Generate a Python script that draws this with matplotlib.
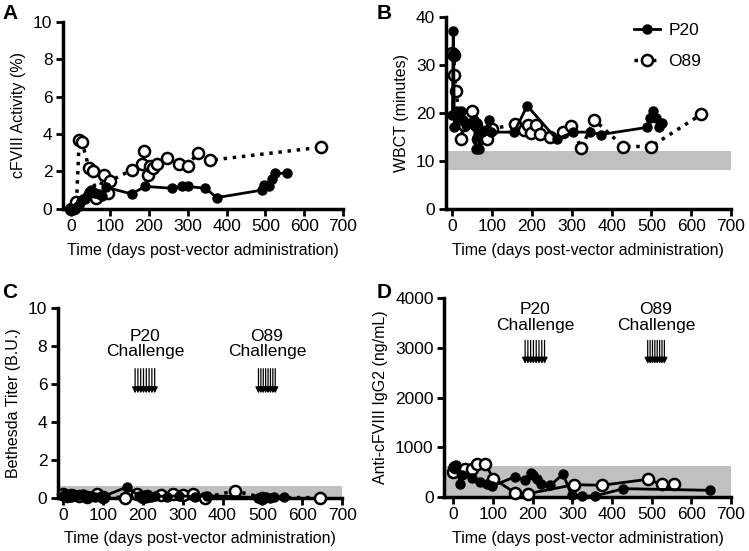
import numpy as np
import matplotlib
matplotlib.use("Agg")
import matplotlib.pyplot as plt

plt.rcParams['font.family'] = ['Liberation Sans', 'DejaVu Sans']
plt.rcParams['font.size'] = 12.5

# ---- panel A: cFVIII activity (%)
a_p20_x = [0, 5, 10, 15, 20, 25, 30, 35, 40, 45, 50, 55, 60, 70, 80, 90, 155, 190, 260, 285, 300, 345, 375, 490, 497, 510, 518, 525, 555]
a_p20_y = [0, 0, 0.05, 0.1, 0.2, 0.4, 0.5, 0.55, 0.7, 0.9, 1.0, 0.9, 0.85, 0.8, 0.7, 1.15, 0.8, 1.2, 1.1, 1.2, 1.2, 1.1, 0.6, 1.0, 1.3, 1.2, 1.6, 1.9, 1.9]
a_o89_x = [0, 7, 13, 20, 27, 45, 55, 63, 85, 93, 100, 157, 183, 188, 197, 203, 210, 220, 245, 277, 300, 325, 358, 644]
a_o89_y = [0, 0.05, 0.35, 3.7, 3.6, 2.2, 2.0, 0.6, 1.8, 0.85, 1.5, 2.1, 2.4, 3.1, 1.8, 2.3, 2.2, 2.4, 2.7, 2.4, 2.3, 3.0, 2.6, 3.3]

# ---- panel B: WBCT (minutes)
b_p20_x = [0, 2, 3, 5, 7, 12, 17, 22, 27, 35, 45, 55, 58, 62, 68, 75, 85, 92, 97, 155, 188, 262, 302, 345, 373, 490, 497, 505, 512, 520, 527]
b_p20_y = [19.5, 37, 32, 17, 19.5, 20.5, 18.5, 20.5, 18.5, 17.5, 18, 18.5, 12.5, 18, 12.5, 16, 16.5, 18.5, 16, 16, 21.5, 14.5, 16, 16, 15.5, 17, 19, 20.5, 19, 17, 18]
b_o89_x = [0, 4, 5, 10, 15, 22, 28, 50, 58, 65, 87, 100, 157, 180, 189, 197, 211, 220, 245, 277, 299, 324, 356, 429, 499, 625]
b_o89_y = [32.5, 32, 28, 24.5, 19.5, 14.6, 17.4, 20.5, 17.5, 14.6, 14.5, 16.7, 17.6, 16.4, 17.4, 15.8, 17.5, 15.7, 15, 16, 17.2, 12.6, 18.6, 13, 13, 19.7]

# ---- panel C: Bethesda titer (B.U.)
c_p20_x = [0, 5, 10, 15, 20, 25, 30, 40, 50, 60, 70, 80, 95, 100, 160, 190, 200, 210, 220, 230, 260, 290, 330, 360, 490, 500, 505, 510, 520, 530, 555]
c_p20_y = [0.1, 0.2, 0.1, 0.15, 0.05, 0.2, 0.1, 0.15, 0.2, 0.05, 0.1, 0.05, 0.1, 0.05, 0.55, 0.1, 0.05, 0.15, 0.05, 0.1, 0.05, 0.1, 0.05, 0.1, 0.0, 0.05, 0.0, 0.05, 0.0, 0.05, 0.05]
c_o89_x = [0, 10, 20, 40, 60, 85, 100, 155, 185, 200, 210, 245, 275, 300, 325, 355, 431, 500, 645]
c_o89_y = [0.2, 0.1, 0.15, 0.1, 0.05, 0.2, 0.05, 0.0, 0.2, 0.05, 0.1, 0.15, 0.2, 0.15, 0.2, 0.0, 0.35, 0.0, 0.0]

# ---- panel D: anti-cFVIII IgG2 (ng/mL)
d_p20_x = [0, 7, 17, 23, 46, 67, 86, 98, 155, 181, 195, 200, 210, 220, 244, 277, 298, 324, 357, 429, 647]
d_p20_y = [605, 652, 269, 437, 390, 302, 269, 222, 403, 336, 490, 437, 370, 269, 235, 457, 34, 20, 20, 168, 134]
d_o89_x = [0, 4, 29, 46, 59, 80, 101, 155, 189, 305, 374, 490, 525, 556]
d_o89_y = [504, 605, 571, 571, 672, 672, 370, 87, 67, 249, 235, 356, 255, 255]

# challenge days (arrows)
p20_challenge = [181, 188, 195, 202, 209, 216, 223, 230]
o89_challenge = [490, 496, 502, 508, 514, 520, 526, 532]

fig = plt.figure(figsize=(7.49, 5.51), dpi=100)
xlabel = "Time (days post-vector administration)"

def setup(ax, xmin, ylim, yticks, ylabel):
    ax.set_xlim(xmin, 700)
    ax.set_ylim(*ylim)
    ax.set_xticks(range(0, 701, 100))
    ax.set_yticks(yticks)
    ax.spines['top'].set_visible(False)
    ax.spines['right'].set_visible(False)
    for s in ['left', 'bottom']:
        ax.spines[s].set_linewidth(2.5)
    ax.tick_params(width=2, length=5, pad=2.5)
    ax.set_xlabel(xlabel, labelpad=6, fontsize=11.5)
    ax.set_ylabel(ylabel, labelpad=5, fontsize=11.5)

def series(ax, x, y, filled, ls):
    if filled:
        ax.plot(x, y, color='black', lw=2, ls=ls, marker='o', ms=6.5, mfc='black', mec='black', clip_on=False, zorder=3)
    else:
        ax.plot(x, y, color='black', lw=2.5 if ls == ':' else 2, ls=ls, marker='o', ms=8, mfc='white', mec='black', mew=1.8, clip_on=False, zorder=3)

def arrows(ax, days, ytop, ybot, label, ytext):
    for d in days:
        ax.annotate("", xy=(d, ybot), xytext=(d, ytop),
                    arrowprops=dict(arrowstyle='-|>', lw=0.9, color='black', mutation_scale=9, shrinkA=0, shrinkB=0))
    ax.text(np.mean(days), ytext, label, ha='center', va='bottom', fontsize=12.5, linespacing=1.05)

# A
axA = fig.add_axes([0.084, 0.621, 0.374, 0.339])
series(axA, a_o89_x, a_o89_y, False, ':')
series(axA, a_p20_x, a_p20_y, True, '-')
setup(axA, -22, (0, 10), range(0, 11, 2), "cFVIII Activity (%)")

# B
axB = fig.add_axes([0.595, 0.621, 0.381, 0.348])
axB.fill_between([-17, 700], 8, 12, color='#c0c0c0', lw=0, zorder=1)
lo, = axB.plot(b_o89_x, b_o89_y, color='black', lw=2.5, ls=':', marker='o', ms=8, mfc='white', mec='black', mew=1.8, clip_on=False, zorder=3)
lp, = axB.plot(b_p20_x, b_p20_y, color='black', lw=2, ls='-', marker='o', ms=6.5, mfc='black', mec='black', clip_on=False, zorder=3)
setup(axB, -17, (0, 40), range(0, 41, 10), "WBCT (minutes)")
axB.legend([lp, lo], ["P20", "O89"], loc='upper right', frameon=False, handlelength=1.5,
           handletextpad=0.5, labelspacing=0.9, bbox_to_anchor=(0.95, 1.05))

# C
axC = fig.add_axes([0.077, 0.097, 0.380, 0.344])
axC.fill_between([-13, 700], 0, 0.6, color='#c0c0c0', lw=0, zorder=1)
series(axC, c_o89_x, c_o89_y, False, ':')
series(axC, c_p20_x, c_p20_y, True, '-')
setup(axC, -13, (0, 10), range(0, 11, 2), "Bethesda Titer (B.U.)")
arrows(axC, p20_challenge, 6.8, 5.5, "P20\nChallenge", 7.3)
arrows(axC, o89_challenge, 6.8, 5.5, "O89\nChallenge", 7.3)

# D
axD = fig.add_axes([0.593, 0.098, 0.383, 0.361])
axD.fill_between([-23, 700], 0, 620, color='#c0c0c0', lw=0, zorder=1)
series(axD, d_o89_x, d_o89_y, False, '-')
series(axD, d_p20_x, d_p20_y, True, '-')
setup(axD, -23, (0, 4000), range(0, 4001, 1000), "Anti-cFVIII IgG2 (ng/mL)")
arrows(axD, p20_challenge, 3150, 2680, "P20\nChallenge", 3300)
arrows(axD, o89_challenge, 3150, 2680, "O89\nChallenge", 3300)

for lbl, x, y in [("A", 0.003, 0.975), ("B", 0.503, 0.975), ("C", 0.003, 0.47), ("D", 0.503, 0.47)]:
    fig.text(x, y, lbl, fontsize=15, fontweight='bold', va='center', ha='left')

fig.savefig("out.png", dpi=100)
